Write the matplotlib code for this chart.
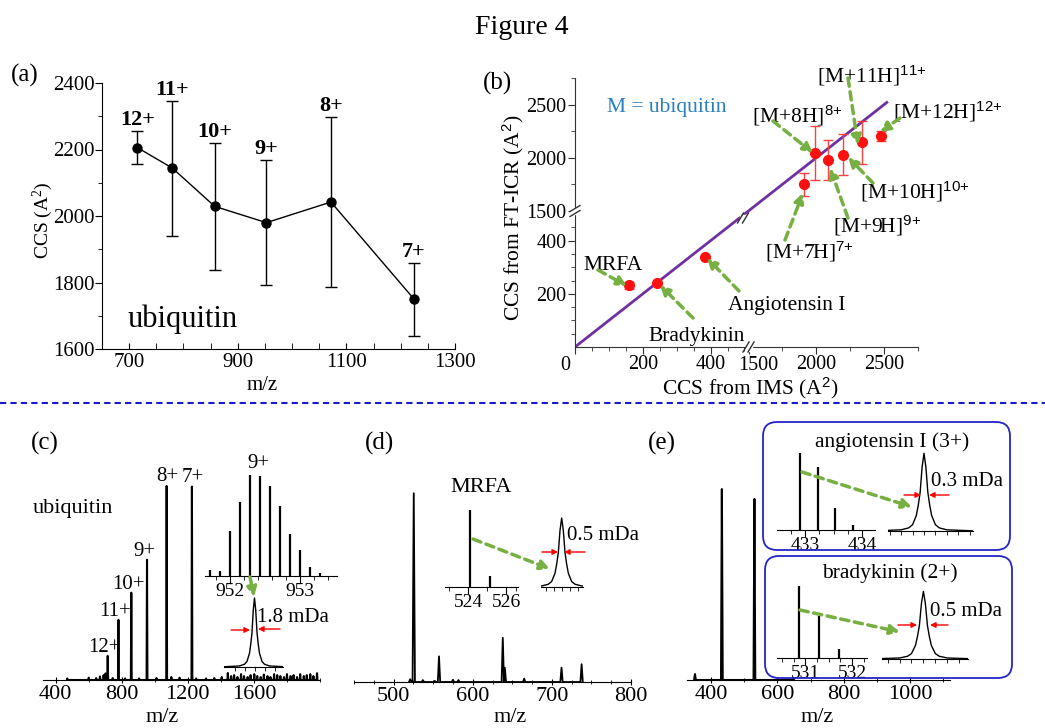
import numpy as np
import matplotlib
matplotlib.use("Agg")
import matplotlib.pyplot as plt
from matplotlib.patches import FancyBboxPatch

plt.rcParams['font.family'] = ['Liberation Serif', 'DejaVu Serif']
plt.rcParams['mathtext.fontset'] = 'custom'
plt.rcParams['mathtext.rm'] = 'Liberation Serif'
plt.rcParams['mathtext.it'] = 'Liberation Serif:italic'
plt.rcParams['mathtext.bf'] = 'Liberation Serif:bold'
plt.rcParams['mathtext.sf'] = 'Liberation Sans'
plt.rcParams['font.size'] = 15

# ---- data ----
# (a) ubiquitin charge states
charges = ['12+', '11+', '10+', '9+', '8+', '7+']
ubq_mz = [714.8, 779.6, 857.5, 952.7, 1071.6, 1224.6]
ubq_ccs = [2206, 2144, 2029, 1980, 2042, 1750]
ubq_err = [50, 203, 192, 188, 255, 110]

# (b) FT-ICR vs IMS
ubq_ims = [2475, 2340, 2197, 2086, 1990, 1906]
pep_names = ['MRFA', 'Bradykinin', 'Angiotensin I']
pep_ims = [158, 243, 383]
pep_icr = [232, 241, 339]
pep_err = [12, 0, 0]

# (c) ubiquitin spectrum
ubq_int = [12.4, 31, 45, 62, 100, 99.7]
noise_mz = [470, 600, 645, 668, 690, 702, 745, 820, 905, 1010, 1100, 1150, 1250,
            1310, 1360, 1405, 1442, 1462, 1480, 1500, 1522, 1540, 1562, 1580,
            1602, 1620, 1641, 1660, 1682, 1700, 1722, 1741, 1760, 1782, 1800,
            1822, 1840, 1861, 1880, 1902, 1920, 1941, 1960, 1982]
noise_int = [0.8, 1.2, 1.0, 1.8, 2.5, 3.4, 1.0, 0.8, 0.8, 1.0, 1.5, 1.2, 0.8,
             0.8, 1.0, 1.5, 3.6, 2.0, 2.5, 1.5, 3.0, 2.0, 1.5, 2.5, 3.0, 2.0,
             1.5, 2.8, 2.0, 1.5, 3.0, 2.5, 2.0, 1.5, 3.0, 2.0, 2.5, 1.5, 3.0,
             2.0, 2.5, 3.0, 2.0, 3.5]
iso9_mz = [951.71, 951.86, 952.0, 952.14, 952.29, 952.43, 952.57, 952.71,
           952.86, 953.0, 953.14, 953.28]
iso9_int = [5.6, 5.0, 44.4, 73.5, 100, 99.3, 89.4, 69.2, 41.4, 26.2, 8.9, 3.0]

# single isotope peak profile, x in FWHM units
prof_x = [-7, -3, -2, -1.5, -1, -0.75, -0.5, -0.25, 0, 0.25, 0.5, 0.75, 1,
          1.5, 2, 3, 7]
prof_y = [0, 0.015, 0.04, 0.08, 0.2, 0.33, 0.5, 0.82, 1.0, 0.82, 0.5, 0.33,
          0.2, 0.08, 0.04, 0.015, 0]

# (d) MRFA spectrum
mrfa_mz = [521, 525.5, 537, 552, 557.4, 575, 582, 638.0, 640.6, 665, 712.2, 737.6]
mrfa_int = [1.5, 100, 1.0, 0.6, 13.6, 1.2, 1.0, 23.4, 7.6, 1.8, 7.6, 9.4]
mrfa_iso_mz = [524.1, 525.15]
mrfa_iso_int = [100, 14.3]

# (e) angiotensin I / bradykinin spectrum
e_mz = [352, 433, 531, 648]
e_int = [3.1, 100, 94.8, 0.9]
ang_mz = [432.90, 433.22, 433.53, 433.85]
ang_int = [100, 82.6, 29.1, 6.5]
bk_mz = [530.87, 531.30, 531.72]
bk_int = [100, 58.1, 12.6]

W, H = 1045, 728
GREEN = '#76b043'
fig = plt.figure(figsize=(W / 100, H / 100), dpi=100)


def rect(l, t, r, b):
    return [l / W, 1 - b / H, (r - l) / W, (b - t) / H]


def label_at(ax, box, xl=None, yl=None):
    l, t, r, b = box
    if xl:
        ax.xaxis.set_label_coords((xl[0] - l) / (r - l), (b - xl[1]) / (b - t))
        ax.xaxis.label.set_va('center')
    if yl:
        ax.yaxis.set_label_coords((yl[0] - l) / (r - l), (b - yl[1]) / (b - t))
        ax.yaxis.label.set_va('center')


def triangles(centers, heights, half):
    xs, ys = [], []
    for c, h in sorted(zip(centers, heights)):
        xs += [c - half, c, c + half]
        ys += [0, h, 0]
    return xs, ys


def spec_axes(box, xlim, ylim, major, minor, fs=16, labels=None, tdir='inout'):
    ax = fig.add_axes(rect(*box))
    ax.set_facecolor('none')
    for s in ['top', 'left', 'right']:
        ax.spines[s].set_visible(False)
    ax.set_yticks([])
    ax.set_xlim(xlim)
    ax.set_ylim(ylim)
    ax.set_xticks(major, labels=labels if labels is not None else [str(m) for m in major])
    ax.set_xticks(minor, minor=True)
    ax.tick_params(axis='x', which='major', direction=tdir, length=5, labelsize=fs, pad=1)
    ax.tick_params(axis='x', which='minor', direction=tdir, length=3)
    return ax


# ---- (a) ----
box_a = (102, 83, 455, 349)
ax = fig.add_axes(rect(*box_a))
ax.errorbar(ubq_mz, ubq_ccs, yerr=ubq_err, fmt='-o', color='black', lw=1,
            ms=6.5, elinewidth=1, capsize=4, capthick=1)
for m, c, e, q in zip(ubq_mz, ubq_ccs, ubq_err, charges):
    ax.annotate(q, (m, c + e), xytext=(0, 1), textcoords='offset pixels',
                ha='center', va='bottom', fontweight='bold', fontsize=16)
ax.set_xlim(651, 1300)
ax.set_ylim(1600, 2400)
ax.set_xticks([700, 900, 1100, 1300])
ax.set_xticks(np.arange(650, 1301, 50), minor=True)
ax.set_yticks([1600, 1800, 2000, 2200, 2400])
ax.set_yticks([1700, 1900, 2100, 2300], minor=True)
ax.tick_params(axis='x', which='both', direction='in', length=4, labelsize=15, pad=3)
ax.tick_params(axis='y', which='major', direction='out', length=5, labelsize=15, pad=0)
ax.tick_params(axis='y', which='minor', direction='out', length=3)
for s in ['top', 'right']:
    ax.spines[s].set_visible(False)
ax.set_facecolor('none')
ax.text(0.071, 0.083, 'ubiquitin', transform=ax.transAxes, fontsize=22, va='baseline')
ax.set_xlabel('m/z', fontsize=15)
ax.set_ylabel('CCS (A$^2$)', fontsize=14)
label_at(ax, box_a, xl=(262, 385), yl=(43, 220))

# ---- (b) ----
BRK, K = 512, 0.4


def fwd(v):
    v = np.asarray(v, dtype=float)
    return np.where(v <= BRK, v, BRK + (v - 1500) * K)


def inv(u):
    u = np.asarray(u, dtype=float)
    return np.where(u <= BRK, u, 1500 + (u - BRK) / K)


box_b = (575, 78, 918, 347)
bx = fig.add_axes(rect(*box_b))
bx.set_facecolor('none')
bx.set_xscale('function', functions=(fwd, inv))
bx.set_yscale('function', functions=(fwd, inv))
bx.set_xlim(0, 2750)
bx.set_ylim(0, 2750)
bx.plot([0, 2520], [0, 2520], color='#7030a0', lw=2, zorder=2)
bx.errorbar(ubq_ims, ubq_ccs, yerr=ubq_err, fmt='o', color='#ff1010', ms=7,
            ecolor='#ff4040', elinewidth=1, capsize=3.5, capthick=1, zorder=3)
bx.errorbar(pep_ims, pep_icr, yerr=pep_err, fmt='o', color='#ff1010', ms=7,
            ecolor='#ff4040', elinewidth=1, capsize=3.5, capthick=1, zorder=3)
lowmin = [50, 100, 150, 250, 300, 350, 450, 500]
# '0' and '1500' labels sit beside their ticks, drawn in the overlay below
bx.set_xticks([0, 200, 400, 1500, 2000, 2500],
              labels=['', '200', '400', '', '2000', '2500'])
bx.set_xticks(lowmin + [1750, 2250, 2750], minor=True)
bx.set_yticks([200, 400, 1500, 2000, 2500],
              labels=['200', '400', '1500', '2000', '2500'])
bx.set_yticks(lowmin + [1750, 2250, 2750], minor=True)
bx.tick_params(which='major', direction='out', length=5, labelsize=14.5,
               color='#333333', pad=1)
bx.tick_params(which='minor', direction='out', length=3, color='#333333')
for s in ['top', 'right']:
    bx.spines[s].set_visible(False)
for s in ['left', 'bottom']:
    bx.spines[s].set_color('#333333')
bx.set_xlabel('CCS from IMS (A$^{\\mathsf{2}}$)', fontsize=15.5)
bx.set_ylabel('CCS from FT-ICR (A$^{\\mathsf{2}}$)', fontsize=15.5)
label_at(bx, box_b, xl=(750, 388), yl=(513, 218))

# ---- (c) ----
c = spec_axes((43, 440, 320, 680), (323, 2000), (0, 123.7),
              [400, 800, 1200, 1600], [600, 1000, 1400, 1800, 2000])
xs, ys = triangles(ubq_mz + noise_mz, ubq_int + noise_int, 2.5)
c.plot(xs, ys, color='black', lw=1.5)
for m, h, q in zip(ubq_mz, ubq_int, charges):
    if q in ('8+', '7+'):
        continue
    c.annotate(q, (m, h), xytext=(-3, 8), textcoords='offset pixels',
               ha='center', va='center', fontsize=15)
for m, h, q in zip(ubq_mz, ubq_int, charges):
    if q in ('8+', '7+'):
        c.annotate(q, (m, h), xytext=(1, 9), textcoords='offset pixels',
                   ha='center', va='center', fontsize=15)
c.set_xlabel('m/z', fontsize=16)
label_at(c, (43, 440, 320, 680), xl=(162, 718))

c1 = spec_axes((205, 466, 337, 576), (951.64, 953.53), (0, 108.9),
               [952, 953], [951.8, 952.2, 952.4, 952.6, 952.8, 953.2, 953.4],
               fs=14, tdir='out')
c1.vlines(iso9_mz, 0, iso9_int, color='black', lw=1.6)
c1.tick_params(axis='x', which='major', pad=0)

c2 = spec_axes((224, 590, 283, 667), (-6.1, 5.7), (0, 1.116), [], [-4, -2, 0, 2, 4],
               tdir='out')
c2.plot(prof_x, prof_y, color='black', lw=1)

# ---- (d) ----
d = spec_axes((354, 440, 631, 682), (450, 800), (0, 128.2),
              [500, 600, 700, 800], list(np.arange(450, 800, 25)))
xs, ys = triangles(mrfa_mz, mrfa_int, 1.5)
d.plot(xs, ys, color='black', lw=1.3)
d.set_xlabel('m/z', fontsize=16)
label_at(d, (354, 440, 631, 682), xl=(510, 718))

d1 = spec_axes((445, 505, 518, 587), (522.8, 526.6), (0, 106.5),
               [524, 526], [523, 525, 526.5], fs=14, tdir='out')
d1.vlines(mrfa_iso_mz, 0, mrfa_iso_int, color='black', lw=1.6)
d1.tick_params(axis='x', which='major', pad=0)

d2 = spec_axes((541, 510, 583, 587), (-3.1, 3.2), (0, 1.116), [],
               [-2.4, -1.2, 0, 1.2, 2.4], tdir='out')
d2.plot(prof_x, prof_y, color='black', lw=1)

# ---- (e) ----
e = spec_axes((687, 440, 950, 680), (328, 1120), (0, 125.7),
              [400, 600, 800, 1000], [500, 700, 900, 1100])
xs, ys = triangles(e_mz, e_int, 2.5)
e.plot(xs, ys, color='black', lw=1.5)
e.set_xlabel('m/z', fontsize=16)
label_at(e, (687, 440, 950, 680), xl=(817, 717))

e1 = spec_axes((777, 448, 875, 530), (432.5, 434.23), (0, 107), [433, 434],
               [432.75, 433.25, 433.5, 433.75, 434.0], fs=14, tdir='out')
e1.vlines(ang_mz, 0, ang_int, color='black', lw=1.6)
e1.tick_params(axis='x', which='major', pad=0)
e1b = spec_axes((888, 445, 973, 531), (-4.7, 6.4), (0, 1.107), [],
                [-4.5, -3, -1.5, 0, 1.5, 3, 4.5, 6], tdir='out')
e1b.plot(prof_x, prof_y, color='black', lw=1)

e2 = spec_axes((777, 580, 867, 658), (530.39, 532.32), (0, 108.8), [531, 532],
               [530.5, 530.75, 531.25, 531.5, 531.75, 532.25], fs=14, tdir='out')
e2.vlines(bk_mz, 0, bk_int, color='black', lw=1.6)
e2.tick_params(axis='x', which='major', pad=0)
e2b = spec_axes((882, 585, 968, 659), (-5.2, 5.6), (0, 1.095), [],
                [-4.5, -3, -1.5, 0, 1.5, 3, 4.5], tdir='out')
e2b.plot(prof_x, prof_y, color='black', lw=1)

# ---- overlay in pixel coordinates ----
ov = fig.add_axes([0, 0, 1, 1])
ov.set_xlim(0, W)
ov.set_ylim(H, 0)
ov.axis('off')
ov.patch.set_alpha(0)
ov.set_zorder(10)

ov.text(522, 28, 'Figure 4', ha='center', va='center', fontsize=20)
ov.plot([0, W], [403, 403], color='#1a1acc', lw=1.5, ls=(0, (3, 2)))
for txt, x, y in [('(a)', 25, 75), ('(b)', 498, 83), ('(c)', 45, 443),
                  ('(d)', 379, 443), ('(e)', 662, 443)]:
    ov.text(x, y, txt, ha='center', va='center', fontsize=18)

# shifted tick labels of the broken x axis in (b)
ov.text(565, 355.5, '0', ha='center', va='top', fontsize=14.5)
ov.text(758, 355.5, '1500', ha='center', va='top', fontsize=14.5)


def garrow(x0, y0, x1, y1):
    ov.annotate('', xy=(x1, y1), xytext=(x0, y0),
                arrowprops=dict(arrowstyle='-|>', color=GREEN, lw=2.5,
                                linestyle=(0, (2.4, 1.6)), mutation_scale=14,
                                shrinkA=0, shrinkB=0))


def rarrow(x0, y0, x1, y1):
    ov.annotate('', xy=(x1, y1), xytext=(x0, y0),
                arrowprops=dict(arrowstyle='-|>', color='red', lw=1,
                                mutation_scale=8, shrinkA=0, shrinkB=0))


# (b) annotations
sup = '$^{\\mathsf{%s}}$'
b_labels = [('[M+11H]' + sup % '11{+}', 817, 82, (848, 78, 858, 145)),
            ('[M+8H]' + sup % '8{+}', 752, 122, (773, 121, 813, 153)),
            ('[M+12H]' + sup % '12{+}', 893, 118, (900, 118, 880, 132)),
            ('[M+10H]' + sup % '10{+}', 860, 198, (873, 183, 848, 157)),
            ('[M+9H]' + sup % '9{+}', 833, 232, (848, 218, 830, 168)),
            ('[M+7H]' + sup % '7{+}', 765, 258, (785, 240, 803, 193)),
            (pep_names[0], 583, 270, (598, 270, 627, 286)),
            (pep_names[1], 648, 341, (693, 318, 660, 285)),
            (pep_names[2], 728, 310, (739, 291, 707, 258))]
for txt, x, y, arr in b_labels:
    ov.text(x, y, txt, ha='left', va='baseline', fontsize=15.5)
    garrow(*arr)
ov.text(607, 112, 'M = ubiquitin', ha='left', va='baseline', fontsize=15.5,
        color='#2a7fc1')


def brk(x, y, horiz=True):
    # double-slash axis break marker
    for dx in (-2.5, 2.5):
        if horiz:
            ov.plot([x + dx - 3, x + dx + 3], [y + 5, y - 5], color='#333333', lw=1)
        else:
            ov.plot([x - 5, x + 5], [y + dx + 3, y + dx - 3], color='#333333', lw=1)


ov.add_patch(plt.Rectangle((745.5, 343), 6, 8, color='white', zorder=1))
ov.add_patch(plt.Rectangle((571, 208), 8, 6, color='white', zorder=1))
brk(748.5, 347, True)
brk(575, 211, False)
ov.add_patch(plt.Rectangle((740, 215), 6, 6, color='white', zorder=1))
brk(743, 218, True)

# (c) inset annotations
ov.text(258, 463, '9+', ha='center', va='center', fontsize=15)
ov.text(33, 508, 'ubiquitin', ha='left', va='center', fontsize=16)
garrow(250, 577, 254, 597)
rarrow(231, 630, 250, 630)
rarrow(280, 629, 258, 629)
ov.text(257, 618, '1.8 mDa', ha='left', va='center', fontsize=15)

# (d) inset annotations
ov.text(450, 488, 'MRFA', ha='left', va='center', fontsize=16)
garrow(473, 539, 550, 569)
rarrow(542, 552, 558, 552)
rarrow(585, 552, 564, 552)
ov.text(567, 535, '0.5 mDa', ha='left', va='center', fontsize=15)

# (e) boxes and annotations
ov.add_patch(FancyBboxPatch((763, 422), 247, 128,
                            boxstyle='round,pad=0,rounding_size=14',
                            ec='#2424c8', fc='none', lw=1.3))
ov.add_patch(FancyBboxPatch((765, 556), 247, 122,
                            boxstyle='round,pad=0,rounding_size=14',
                            ec='#2424c8', fc='none', lw=1.3))
ov.text(892, 442, 'angiotensin I (3+)', ha='center', va='center', fontsize=15.5)
ov.text(890, 573, 'bradykinin (2+)', ha='center', va='center', fontsize=15.5)
garrow(802, 472, 912, 507)
rarrow(904, 495, 921, 495)
rarrow(949, 495, 929, 495)
ov.text(931, 481, '0.3 mDa', ha='left', va='center', fontsize=15)
garrow(800, 610, 900, 632)
rarrow(898, 625, 917, 625)
rarrow(948, 625, 930, 625)
ov.text(930, 612, '0.5 mDa', ha='left', va='center', fontsize=15)

fig.savefig('out.png', dpi=100)
